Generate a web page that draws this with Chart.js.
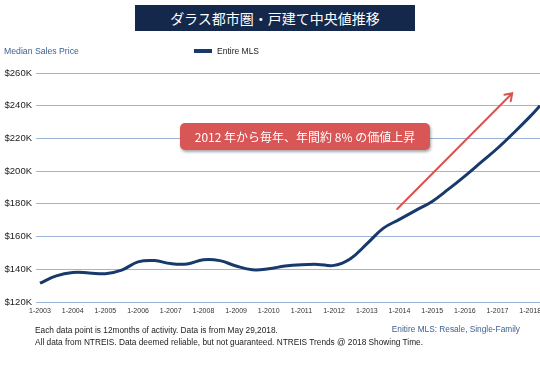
<!DOCTYPE html>
<html>
<head>
<meta charset="utf-8">
<script src="https://cdn.jsdelivr.net/npm/chart.js@4"></script>
<style>
  body { margin: 0; background: #fff; }
  #wrap { position: relative; width: 540px; height: 376px; overflow: hidden; font-family: "Liberation Sans", Arial, sans-serif; }
  #chart { position: absolute; left: 0; top: 0; }
  .title {
    position: absolute; left: 135px; top: 5px; width: 280px; height: 26px;
    background: #13284a; color: #fff; text-align: center; line-height: 26px;
    font-family: "Noto Sans CJK JP", sans-serif; font-size: 14px;
  }
  .ylabel { position: absolute; left: 4px; top: 46px; font-size: 8.7px; color: #3b5f93; }
  .legend { position: absolute; left: 194px; top: 46px; font-size: 8.5px; color: #222; }
  .legend i { display: inline-block; width: 18px; height: 4px; background: #17396b; vertical-align: middle; margin-right: 5px; position: relative; top: -1px; }
  .note {
    position: absolute; left: 180px; top: 123px; width: 250px; height: 27px;
    background: #d85656; color: #fff; border-radius: 5px; text-align: center; line-height: 27px;
    font-family: "Noto Sans CJK JP", sans-serif; font-size: 12px;
    box-shadow: 1px 2px 3px rgba(0,0,0,0.35);
  }
  .foot { position: absolute; left: 35px; font-size: 8.3px; color: #222; white-space: nowrap; }
  .src { position: absolute; right: 20px; top: 324px; font-size: 8.3px; color: #3b5f93; }
</style>
</head>
<body>
<div id="wrap">
  <canvas id="chart" width="540" height="376"></canvas>
  <div class="title">ダラス都市圏・戸建て中央値推移</div>
  <div class="ylabel">Median Sales Price</div>
  <div class="legend"><i></i>Entire MLS</div>
  <div class="note">2012 年から毎年、年間約 8% の価値上昇</div>
  <div class="foot" style="top:325px">Each data point is 12months of activity. Data is from May 29,2018.</div>
  <div class="foot" style="top:337px">All data from NTREIS. Data deemed reliable, but not guaranteed. NTREIS Trends @ 2018 Showing Time.</div>
  <div class="src">Enitire MLS: Resale, Single-Family</div>
</div>
<script>
// time in years, price in $K
const years = [
  2003.0, 2003.5, 2004.0, 2004.5, 2005.0, 2005.5, 2006.0, 2006.5,
  2007.0, 2007.5, 2008.0, 2008.5, 2009.0, 2009.5, 2010.0, 2010.5,
  2011.0, 2011.5, 2012.0, 2012.5, 2013.0, 2013.5, 2014.0, 2014.5,
  2015.0, 2015.5, 2016.0, 2016.5, 2017.0, 2017.5, 2018.0, 2018.3,
];
const prices = [
  131.5, 136.0, 138.0, 137.8, 137.3, 139.5, 144.5, 145.3,
  143.5, 143.3, 145.8, 145.3, 142.0, 139.7, 140.3, 142.0,
  142.8, 143.0, 142.4, 146.5, 155.5, 165.0, 170.5, 176.0,
  181.5, 189.0, 197.0, 205.5, 214.0, 223.5, 233.5, 240.0,
];
const tickYears = [2003, 2004, 2005, 2006, 2007, 2008, 2009, 2010, 2011, 2012, 2013, 2014, 2015, 2016, 2017, 2018];
const yTicks = [120, 140, 160, 180, 200, 220, 240, 260];

// trend arrow (year, $K)
const arrowFrom = [2013.93, 176.9];
const arrowTo = [2017.45, 247.6];

Chart.defaults.font.family = "'Liberation Sans', Arial, sans-serif";

const arrowPlugin = {
  id: "trendArrow",
  afterDatasetsDraw(chart) {
    const x = chart.scales.x;
    const y = chart.scales.y;
    const x1 = x.getPixelForValue(arrowFrom[0]);
    const y1 = y.getPixelForValue(arrowFrom[1]);
    const x2 = x.getPixelForValue(arrowTo[0]);
    const y2 = y.getPixelForValue(arrowTo[1]);
    const ang = Math.atan2(y2 - y1, x2 - x1);
    const ctx = chart.ctx;
    ctx.save();
    ctx.strokeStyle = "#d9534f";
    ctx.lineWidth = 2;
    ctx.lineCap = "round";
    ctx.beginPath();
    ctx.moveTo(x1, y1);
    ctx.lineTo(x2, y2);
    ctx.moveTo(x2 - 8 * Math.cos(ang - 0.6), y2 - 8 * Math.sin(ang - 0.6));
    ctx.lineTo(x2, y2);
    ctx.lineTo(x2 - 8 * Math.cos(ang + 0.6), y2 - 8 * Math.sin(ang + 0.6));
    ctx.stroke();
    ctx.restore();
  },
};

const points = years.map((v, i) => ({ x: v, y: prices[i] }));

const config = {
  type: "line",
  data: {
    datasets: [
      {
        label: "Entire MLS",
        data: points,
        borderColor: "#17396b",
        borderWidth: 3,
        pointRadius: 0,
        tension: 0.4,
        fill: false,
      },
    ],
  },
  options: {
    responsive: false,
    animation: false,
    layout: {
      padding: { top: 73, left: 0, right: 0, bottom: 54 },
    },
    scales: {
      x: {
        type: "linear",
        min: 2002.878,
        max: 2018.3,
        grid: { display: false, drawTicks: false },
        border: { display: false },
        afterBuildTicks(scale) {
          scale.ticks = tickYears.map((v) => ({ value: v }));
        },
        afterFit(scale) {
          scale.height = 20;
          scale.paddingLeft = 0;
          scale.paddingRight = 0;
        },
        ticks: {
          autoSkip: false,
          maxRotation: 0,
          padding: 5,
          color: "#333",
          font: { size: 7 },
          callback: (v) => "1-" + v,
        },
      },
      y: {
        min: 120,
        max: 260,
        afterBuildTicks(scale) {
          scale.ticks = yTicks.map((v) => ({ value: v }));
        },
        afterFit(scale) {
          scale.width = 36;
        },
        grid: {
          color: "#9cb5d9",
          lineWidth: 1,
          drawTicks: false,
        },
        border: { display: false },
        ticks: {
          padding: 4,
          color: "#222",
          font: { size: 9.5 },
          callback: (v) => "$" + v + "K",
        },
      },
    },
    plugins: {
      legend: { display: false },
      tooltip: { enabled: false },
    },
  },
  plugins: [arrowPlugin],
};

new Chart(document.getElementById("chart"), config);
</script>
</body>
</html>
